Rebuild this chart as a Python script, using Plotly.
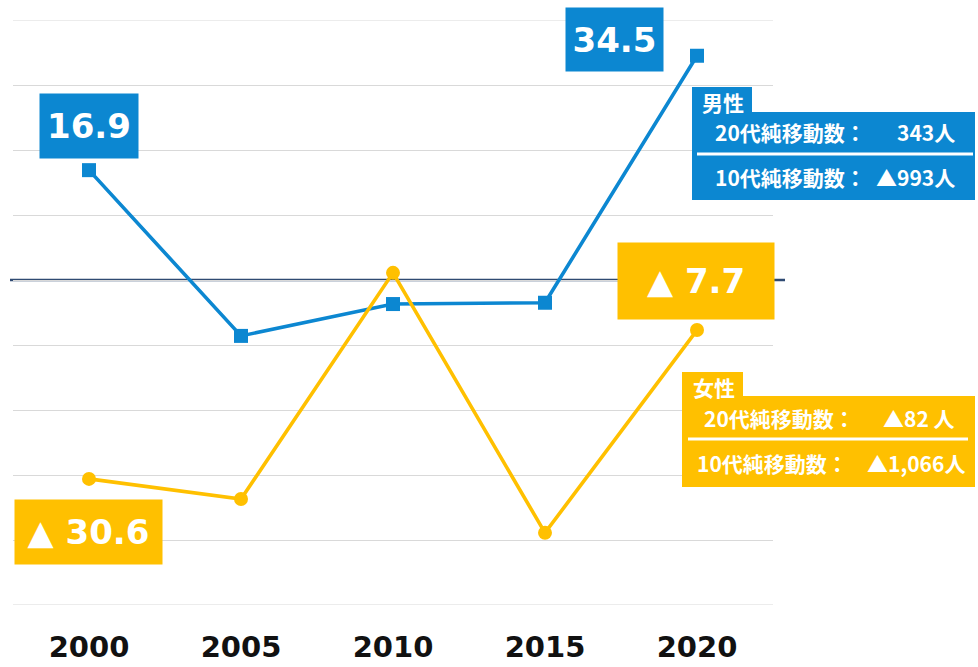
import plotly.graph_objects as go

years = ["2000", "2005", "2010", "2015", "2020"]
male = [16.9, -8.6, -3.7, -3.5, 34.5]
female = [-30.6, -33.7, 1.1, -38.9, -7.7]

male_info = ["男性", "20代純移動数：", "343人", "10代純移動数：", "▲993人"]
female_info = ["女性", "20代純移動数：", "▲82 人", "10代純移動数：", "▲1,066人"]

BLUE = "#0C87D1"
GOLD = "#FFC000"
W, H = 978, 667
L, R, T, B = 13, 773, 20, 605


def px(x):
    return (x - L) / (R - L)


def py(y):
    return (B - y) / (B - T)


def fmt(v):
    return f"{v}" if v >= 0 else f"▲ {abs(v)}"


fig = go.Figure()
fig.add_trace(go.Scatter(x=years, y=male, mode="lines+markers",
                         line=dict(color=BLUE, width=3.6),
                         marker=dict(symbol="square", size=14, color=BLUE),
                         showlegend=False, hoverinfo="skip"))
fig.add_trace(go.Scatter(x=years, y=female, mode="lines+markers",
                         line=dict(color=GOLD, width=3.6),
                         marker=dict(symbol="circle", size=14, color=GOLD),
                         showlegend=False, hoverinfo="skip"))

shapes = []
for yv in (40, -50):
    shapes.append(dict(type="line", xref="paper", yref="y", x0=0, x1=1, y0=yv, y1=yv,
                       line=dict(color="#D9D9D9", width=1), layer="below"))
shapes.append(dict(type="line", xref="paper", yref="y", x0=px(10), x1=px(785), y0=0, y1=0,
                   line=dict(color="#2F4A72", width=2.6), layer="below"))


def box(x0, y0, x1, y1, color):
    return dict(type="rect", xref="paper", yref="paper", x0=px(x0), x1=px(x1),
                y0=py(y1), y1=py(y0), fillcolor=color, line=dict(width=0), layer="above")


def hline(x0, x1, y):
    return dict(type="line", xref="paper", yref="paper", x0=px(x0), x1=px(x1),
                y0=py(y), y1=py(y), line=dict(color="white", width=3), layer="above")


shapes += [box(692, 87, 752, 114, BLUE), box(692, 112, 975, 200, BLUE), hline(697, 973, 154)]
shapes += [box(682, 372, 743, 398, GOLD), box(682, 396, 975, 487, GOLD), hline(688, 968, 439)]

annotations = []
lab_font = dict(family="DejaVu Sans", size=34, color="white")
labels = [
    (0, male[0], BLUE, 98, 64, 0, 44),
    (4, male[4], BLUE, 97, 63, -83, 16),
    (4, female[4], GOLD, 156, 76, -1, 49),
    (0, female[0], GOLD, 147, 64, -1, -53),
]
for i, v, c, bw, bh, xs, ys in labels:
    annotations.append(dict(x=i, y=v, xref="x", yref="y", text=f"<b>{fmt(v)}</b>",
                            showarrow=False, bgcolor=c, width=bw, height=bh, borderpad=0,
                            xshift=xs, yshift=ys, font=lab_font, align="center", valign="middle"))

cjk = dict(family="Noto Sans CJK JP", size=21, color="white")


def txt(x, y, s, anchor):
    return dict(x=px(x), y=py(y), xref="paper", yref="paper", text=f"<b>{s}</b>",
                showarrow=False, xanchor=anchor, yanchor="middle", font=cjk)


annotations += [
    txt(700, 102, male_info[0], "left"),
    txt(713, 132, male_info[1], "left"),
    txt(957, 132, male_info[2], "right"),
    txt(713, 177, male_info[3], "left"),
    txt(957, 177, male_info[4], "right"),
    txt(691, 387, female_info[0], "left"),
    txt(702, 418, female_info[1], "left"),
    txt(957, 418, female_info[2], "right"),
    txt(695, 463, female_info[3], "left"),
    txt(967, 463, female_info[4], "right"),
]

fig.update_layout(
    width=W, height=H,
    margin=dict(l=L, r=W - R, t=T, b=H - B, autoexpand=False),
    paper_bgcolor="white", plot_bgcolor="white",
    xaxis=dict(type="category", range=[-0.5, 4.5], showgrid=False, zeroline=False,
               showline=False, ticks="", ticklabelstandoff=22, automargin=False,
               tickfont=dict(family="DejaVu Sans", size=29, color="#111111", weight="bold")),
    yaxis=dict(range=[-50, 40], dtick=10, showgrid=True, gridcolor="#D9D9D9", gridwidth=1,
               zeroline=False, showticklabels=False, ticks="", automargin=False),
    shapes=shapes, annotations=annotations,
)
fig.write_html("out.html", config={"displayModeBar": False, "staticPlot": True},
               post_script="document.body.style.margin='0px';document.body.style.overflow='hidden';")
